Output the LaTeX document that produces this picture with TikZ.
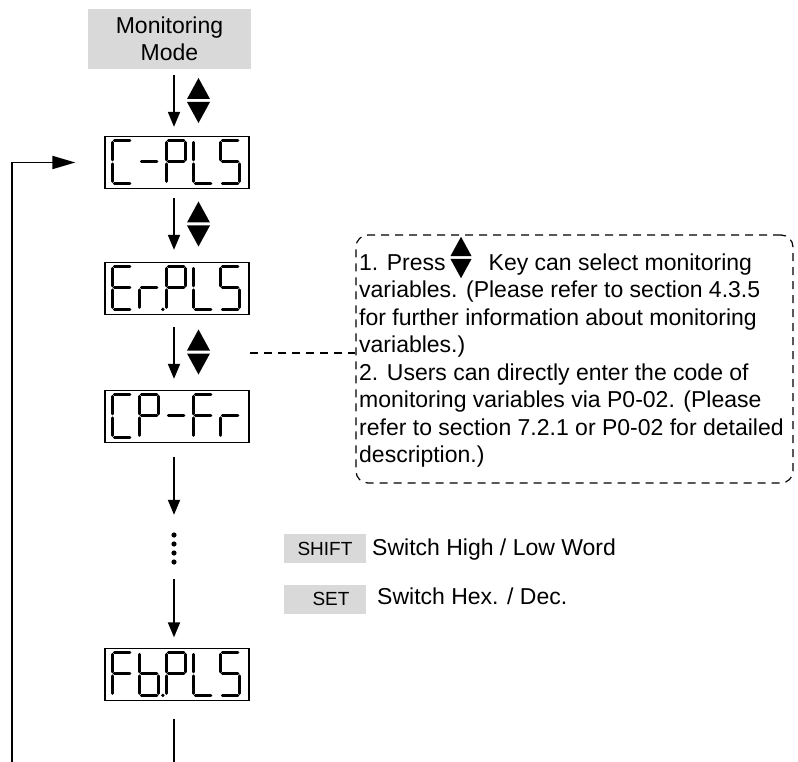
\documentclass[tikz,border=0pt]{standalone}
\usepackage{fontspec}
\setmainfont{Liberation Sans}
\usetikzlibrary{arrows.meta,calc}
\definecolor{keygray}{HTML}{D9D9D9}
\tikzset{
  lcdbox/.style={draw, line width=1.3pt, minimum width=144pt, minimum height=52pt, inner sep=0pt},
  segline/.style={line width=3pt, line cap=round},
  flow/.style={line width=1.8pt, -{Triangle[length=15pt,width=12pt]}},
  plainline/.style={line width=1.8pt},
  keybox/.style={fill=keygray, minimum width=82pt, minimum height=29pt, inner sep=0pt, font=\fontsize{19}{22}\selectfont},
  txt/.style={font=\fontsize{23}{27}\selectfont, inner sep=0pt},
  dashline/.style={line width=1.2pt, dash pattern=on 8pt off 6pt},
  lcdseg/a/.code={\draw[segline] (2,0) -- (17.5,0);},
  lcdseg/b/.code={\draw[segline] (19.5,2) -- (19.5,19.5);},
  lcdseg/c/.code={\draw[segline] (19.5,23.5) -- (19.5,41);},
  lcdseg/d/.code={\draw[segline] (2,43) -- (17.5,43);},
  lcdseg/e/.code={\draw[segline] (0,23.5) -- (0,41);},
  lcdseg/f/.code={\draw[segline] (0,2) -- (0,19.5);},
  lcdseg/g/.code={\draw[segline] (2,21.5) -- (17.5,21.5);},
  lcdseg/p/.code={\fill (23.5,43) circle (1.8pt);},
  pics/lcd/.style={code={%
    \foreach \s in {#1} {\edef\lcdtmp{\noexpand\pgfkeys{/tikz/lcdseg/\s}}\lcdtmp}%
  }},
  pics/updown/.style={code={%
    \fill (-11.5,-1.5) -- (11.5,-1.5) -- (0,-22.5) -- cycle;
    \fill (-11.5,1.5) -- (11.5,1.5) -- (0,22.5) -- cycle;
  }},
}
\newcommand\lcdrow[6]{%
  \pic at ($(#1.north west)+(8,4.5)$) {lcd={#2}};
  \pic at ($(#1.north west)+(35,4.5)$) {lcd={#3}};
  \pic at ($(#1.north west)+(62,4.5)$) {lcd={#4}};
  \pic at ($(#1.north west)+(89,4.5)$) {lcd={#5}};
  \pic at ($(#1.north west)+(116,4.5)$) {lcd={#6}};
}
\begin{document}
\begin{tikzpicture}[x=1pt,y=-1pt]
\useasboundingbox (0,0) rectangle (798,762);

% mode box
\node[fill=keygray, minimum width=163pt, minimum height=60pt, inner sep=0pt, align=center,
      font=\fontsize{23}{27}\selectfont] (mm) at (169.5,39) {Monitoring\\Mode};

% displays
\node[lcdbox] (cpls) at (177,162.5) {};
\node[lcdbox] (erpls) at (177,288.5) {};
\node[lcdbox] (cpfr) at (177,416.5) {};
\node[lcdbox] (fbpls) at (177,674.5) {};

\lcdrow{cpls}{a,d,e,f}{g}{a,b,f,g,e}{f,e,d}{a,f,g,c,d}
\lcdrow{erpls}{a,f,g,e,d}{e,g,p}{a,b,f,g,e}{f,e,d}{a,f,g,c,d}
\lcdrow{cpfr}{a,d,e,f}{a,b,f,g,e}{g}{a,f,g,e}{e,g}
\lcdrow{fbpls}{a,f,g,e}{f,e,g,c,d,p}{a,b,f,g,e}{f,e,d}{a,f,g,c,d}

% dots
\node[minimum width=6pt, minimum height=34pt, inner sep=0pt] (dots) at (174,548.5) {};
\foreach \yy in {535,544,553,562} \fill (174,\yy) circle (2.6pt);

% column arrows
\coordinate (col) at (174,0);
\coordinate (botc) at (174,762);
\draw[flow, shorten <=6pt, shorten >=9pt] (mm.south -| col) -- (cpls.north -| col);
\draw[flow, shorten <=9pt, shorten >=12pt] (cpls.south -| col) -- (erpls.north -| col);
\draw[flow, shorten <=12pt, shorten >=11pt] (erpls.south -| col) -- (cpfr.north -| col);
\draw[flow, shorten <=13.5pt, shorten >=16.5pt] (cpfr.south -| col) -- (dots.north -| col);
\draw[flow, shorten <=13.5pt, shorten >=10.5pt] (dots.south -| col) -- (fbpls.north -| col);
\draw[plainline, shorten <=17.5pt] (fbpls.south -| col) -- (botc);

% up/down keys
\pic at (198.5,100.5) {updown};
\pic at (198.5,224) {updown};
\pic at (198.5,352) {updown};

% loop back
\coordinate (loopb) at (12,762);
\draw[line width=1.8pt, -{Triangle[length=23pt,width=13pt]}, shorten >=29pt] (loopb) |- (cpls.west);

% note
\node[draw, dashline, rounded corners=12pt, minimum width=437pt, minimum height=248pt] (note) at (574.5,359) {};
\coordinate (dstart) at (250,353);
\draw[dashline] (dstart) -- (dstart -| note.west);
\pic[scale=0.92] at (461,257.5) {updown};
\node[txt, anchor=base west] (n1) at (359,270) {1. Press\hspace{43pt}Key can select monitoring};
\node[txt, anchor=base west] (n2) at (359,297.5) {variables. (Please refer to section 4.3.5};
\node[txt, anchor=base west] (n3) at (359,325) {for further information about monitoring};
\node[txt, anchor=base west] (n4) at (359,352.5) {variables.)};
\node[txt, anchor=base west] (n5) at (359,380) {2. Users can directly enter the code of};
\node[txt, anchor=base west] (n6) at (359,407.5) {monitoring variables via P0-02. (Please};
\node[txt, anchor=base west] (n7) at (359,435) {refer to section 7.2.1 or P0-02 for detailed};
\node[txt, anchor=base west] (n8) at (359,462.5) {description.)};

% keys legend
\node[keybox] (shiftkey) at (325,548.5) {SHIFT};
\node[txt, anchor=base west] (shifttxt) at (372,555) {Switch High / Low Word};
\node[keybox] (setkey) at (325,599) {\hspace*{12pt}SET};
\node[txt, anchor=base west] (settxt) at (377,604) {Switch Hex. / Dec.};
\end{tikzpicture}
\end{document}
